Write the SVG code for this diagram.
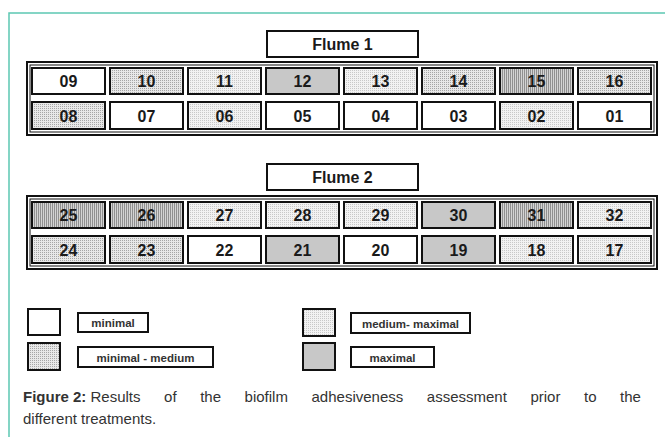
<svg xmlns="http://www.w3.org/2000/svg" width="665" height="437" viewBox="0 0 665 437">
<style>
.cell{stroke:#111;stroke-width:2}
.lbl{font-family:"Liberation Sans",Arial,sans-serif;font-weight:bold;font-size:16px;fill:#1a1a1a;text-anchor:middle}
.leg{font-family:"Liberation Sans",Arial,sans-serif;font-weight:bold;font-size:11.5px;fill:#333;text-anchor:middle}
.frame{fill:none;stroke:#111}
.cap{font-family:"Liberation Sans",Arial,sans-serif;font-size:15px;fill:#333}
</style>
<defs>
<pattern id="dotDark" width="2" height="2" patternUnits="userSpaceOnUse"><rect width="2" height="2" fill="#e8e8e8"/><rect width="1" height="1" fill="#a6a6a6"/></pattern>
<pattern id="dotLight" width="2" height="2" patternUnits="userSpaceOnUse"><rect width="2" height="2" fill="#f2f2f2"/><rect width="1" height="1" fill="#c8c8c8"/></pattern>
<pattern id="stripes" width="2" height="2" patternUnits="userSpaceOnUse"><rect width="2" height="2" fill="#d4d4d4"/><rect width="1" height="2" fill="#909090"/></pattern>
</defs>
<rect width="665" height="437" fill="#fff"/>
<path d="M9 437V13H665" fill="none" stroke="#5cc8b2" stroke-width="1.5"/>

<g id="flume1">
<rect x="267" y="31" width="151" height="26" fill="#fff" class="cell"/>
<text x="342.5" y="50" class="lbl" font-size="16.5">Flume 1</text>
<rect x="27" y="62" width="630" height="73" class="frame" stroke-width="2"/>
<rect x="30" y="65" width="624" height="67" class="frame" stroke-width="1"/>
</g>
<g id="c09"><rect x="32" y="68" width="73" height="26" fill="#fff" class="cell"/><text x="68.5" y="87" class="lbl">09</text></g>
<g id="c10"><rect x="110" y="68" width="73" height="26" fill="url(#dotDark)" class="cell"/><text x="146.5" y="87" class="lbl">10</text></g>
<g id="c11"><rect x="188" y="68" width="73" height="26" fill="url(#dotLight)" class="cell"/><text x="224.5" y="87" class="lbl">11</text></g>
<g id="c12"><rect x="266" y="68" width="73" height="26" fill="#c8c8c8" class="cell"/><text x="302.5" y="87" class="lbl">12</text></g>
<g id="c13"><rect x="344" y="68" width="73" height="26" fill="url(#dotLight)" class="cell"/><text x="380.5" y="87" class="lbl">13</text></g>
<g id="c14"><rect x="422" y="68" width="73" height="26" fill="url(#dotDark)" class="cell"/><text x="458.5" y="87" class="lbl">14</text></g>
<g id="c15"><rect x="500" y="68" width="73" height="26" fill="url(#stripes)" class="cell"/><text x="536.5" y="87" class="lbl">15</text></g>
<g id="c16"><rect x="578" y="68" width="73" height="26" fill="url(#dotDark)" class="cell"/><text x="614.5" y="87" class="lbl">16</text></g>
<g id="c08"><rect x="32" y="102" width="73" height="27" fill="url(#dotDark)" class="cell"/><text x="68.5" y="121.5" class="lbl">08</text></g>
<g id="c07"><rect x="110" y="102" width="73" height="27" fill="#fff" class="cell"/><text x="146.5" y="121.5" class="lbl">07</text></g>
<g id="c06"><rect x="188" y="102" width="73" height="27" fill="url(#dotLight)" class="cell"/><text x="224.5" y="121.5" class="lbl">06</text></g>
<g id="c05"><rect x="266" y="102" width="73" height="27" fill="#fff" class="cell"/><text x="302.5" y="121.5" class="lbl">05</text></g>
<g id="c04"><rect x="344" y="102" width="73" height="27" fill="#fff" class="cell"/><text x="380.5" y="121.5" class="lbl">04</text></g>
<g id="c03"><rect x="422" y="102" width="73" height="27" fill="#fff" class="cell"/><text x="458.5" y="121.5" class="lbl">03</text></g>
<g id="c02"><rect x="500" y="102" width="73" height="27" fill="url(#dotLight)" class="cell"/><text x="536.5" y="121.5" class="lbl">02</text></g>
<g id="c01"><rect x="578" y="102" width="73" height="27" fill="#fff" class="cell"/><text x="614.5" y="121.5" class="lbl">01</text></g>

<g id="flume2">
<rect x="267" y="164" width="151" height="26" fill="#fff" class="cell"/>
<text x="342.5" y="183" class="lbl" font-size="16.5">Flume 2</text>
<rect x="27" y="196" width="630" height="73" class="frame" stroke-width="2"/>
<rect x="30" y="199" width="624" height="67" class="frame" stroke-width="1"/>
</g>
<g id="c25"><rect x="32" y="202" width="73" height="26" fill="url(#stripes)" class="cell"/><text x="68.5" y="221" class="lbl">25</text></g>
<g id="c26"><rect x="110" y="202" width="73" height="26" fill="url(#stripes)" class="cell"/><text x="146.5" y="221" class="lbl">26</text></g>
<g id="c27"><rect x="188" y="202" width="73" height="26" fill="url(#dotLight)" class="cell"/><text x="224.5" y="221" class="lbl">27</text></g>
<g id="c28"><rect x="266" y="202" width="73" height="26" fill="url(#dotLight)" class="cell"/><text x="302.5" y="221" class="lbl">28</text></g>
<g id="c29"><rect x="344" y="202" width="73" height="26" fill="url(#dotLight)" class="cell"/><text x="380.5" y="221" class="lbl">29</text></g>
<g id="c30"><rect x="422" y="202" width="73" height="26" fill="#c8c8c8" class="cell"/><text x="458.5" y="221" class="lbl">30</text></g>
<g id="c31"><rect x="500" y="202" width="73" height="26" fill="url(#stripes)" class="cell"/><text x="536.5" y="221" class="lbl">31</text></g>
<g id="c32"><rect x="578" y="202" width="73" height="26" fill="url(#dotLight)" class="cell"/><text x="614.5" y="221" class="lbl">32</text></g>
<g id="c24"><rect x="32" y="236" width="73" height="27" fill="url(#dotDark)" class="cell"/><text x="68.5" y="255.5" class="lbl">24</text></g>
<g id="c23"><rect x="110" y="236" width="73" height="27" fill="url(#dotDark)" class="cell"/><text x="146.5" y="255.5" class="lbl">23</text></g>
<g id="c22"><rect x="188" y="236" width="73" height="27" fill="#fff" class="cell"/><text x="224.5" y="255.5" class="lbl">22</text></g>
<g id="c21"><rect x="266" y="236" width="73" height="27" fill="#c8c8c8" class="cell"/><text x="302.5" y="255.5" class="lbl">21</text></g>
<g id="c20"><rect x="344" y="236" width="73" height="27" fill="#fff" class="cell"/><text x="380.5" y="255.5" class="lbl">20</text></g>
<g id="c19"><rect x="422" y="236" width="73" height="27" fill="#c8c8c8" class="cell"/><text x="458.5" y="255.5" class="lbl">19</text></g>
<g id="c18"><rect x="500" y="236" width="73" height="27" fill="url(#dotLight)" class="cell"/><text x="536.5" y="255.5" class="lbl">18</text></g>
<g id="c17"><rect x="578" y="236" width="73" height="27" fill="url(#dotLight)" class="cell"/><text x="614.5" y="255.5" class="lbl">17</text></g>

<g id="legend-minimal"><rect x="28" y="309" width="32" height="26" fill="#fff" class="cell"/><rect x="78" y="313" width="70" height="19" fill="#fff" class="cell"/><text x="113" y="327" class="leg">minimal</text></g>
<g id="legend-minimal-medium"><rect x="28" y="343" width="32" height="27" fill="url(#dotDark)" class="cell"/><rect x="78" y="347" width="135" height="20" fill="#fff" class="cell"/><text x="145.5" y="361.5" class="leg">minimal - medium</text></g>
<g id="legend-medium-maximal"><rect x="303" y="309" width="32" height="27" fill="url(#dotLight)" class="cell"/><rect x="351" y="313" width="119" height="20" fill="#fff" class="cell"/><text x="410.5" y="327.5" class="leg">medium- maximal</text></g>
<g id="legend-maximal"><rect x="303" y="343" width="32" height="27" fill="#c8c8c8" class="cell"/><rect x="351" y="347" width="83" height="20" fill="#fff" class="cell"/><text x="392.5" y="361.5" class="leg">maximal</text></g>

<g id="caption">
<text x="23" y="402" class="cap"><tspan font-weight="bold">Figure 2: </tspan><tspan word-spacing="19.4">Results of the biofilm adhesiveness assessment prior to the</tspan></text>
<text x="23" y="424" class="cap">different treatments.</text>
</g>
</svg>
